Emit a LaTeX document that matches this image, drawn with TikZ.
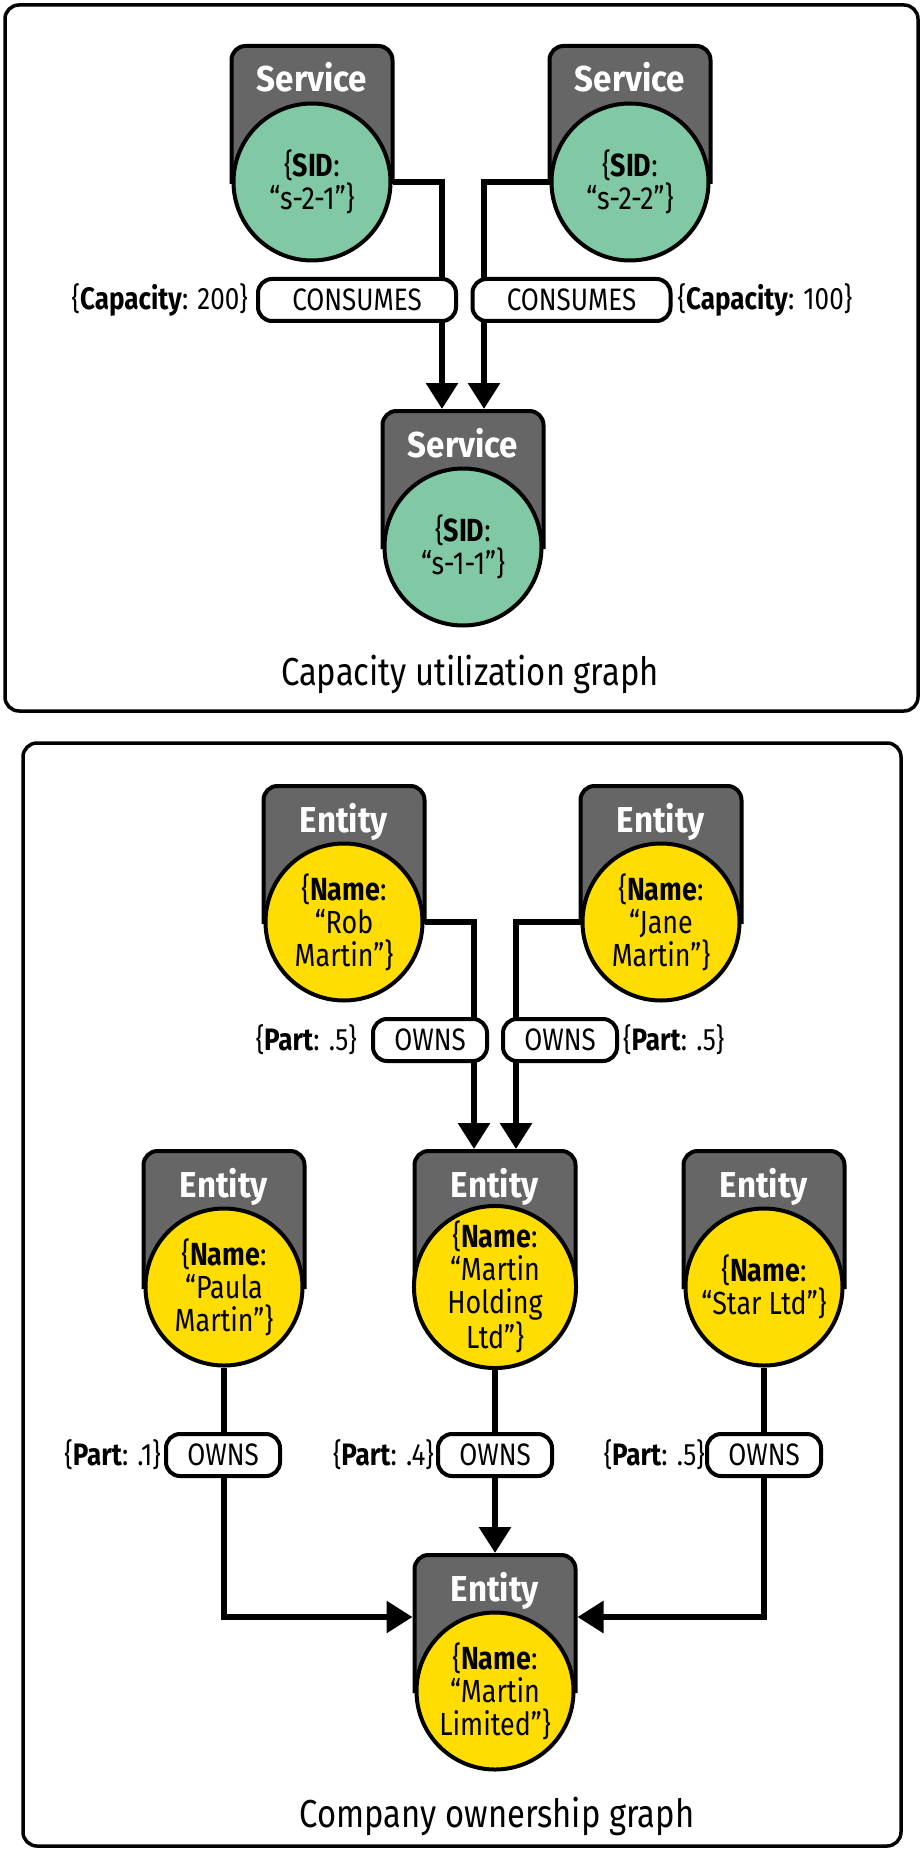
\documentclass[tikz,border=0pt]{standalone}
\usepackage{fontspec}
\setmainfont{Fira Sans}[FakeStretch=0.84]
\newfontfamily\headfont{Fira Sans}[FakeStretch=0.92]
\usetikzlibrary{positioning,arrows.meta}

\definecolor{headgrey}{RGB}{102,102,102}
\definecolor{sidgreen}{RGB}{128,201,164}
\definecolor{nameyellow}{RGB}{255,221,0}

% graph node: name, x, y of circle centre, header, fill, properties
\newcommand{\graphnode}[6]{%
  \draw[header] (#2-80.5,#3) [rounded corners=14pt] -- (#2-80.5,#3-136) -- (#2+80.5,#3-136) [sharp corners] -- (#2+80.5,#3) -- cycle;
  \node[headtext, anchor=base] (#1-head) at (#2,#3-90) {#4};
  \coordinate (#1-top) at (#2,#3-138);
  \node[prop, fill=#5] (#1) at (#2,#3) {#6};
}

\begin{document}
\begin{tikzpicture}[x=1pt, y=-1pt,
    panel/.style={draw, line width=3.5pt, rounded corners=14pt},
    header/.style={draw, line width=4pt, fill=headgrey},
    headtext/.style={text=white, inner sep=0, font=\headfont\fontsize{36}{36}\selectfont\bfseries},
    prop/.style={circle, draw, line width=4pt, minimum size=157pt, inner sep=0, align=center, font=\fontsize{32}{33}\selectfont},
    rel/.style={draw, line width=4pt, fill=white, rounded corners=14pt, minimum height=42pt, inner sep=0, font=\fontsize{31}{31}\selectfont},
    attr/.style={inner sep=0, font=\fontsize{31}{31}\selectfont},
    title/.style={inner sep=0, font=\fontsize{39}{39}\selectfont},
    conn/.style={line width=6pt, -{Triangle[length=26pt, width=31pt]}}]
        \useasboundingbox (0,0) rectangle (923,1851);

        % Panels
        \draw[panel] (5,5) rectangle (918,711);
        \draw[panel] (23,743) rectangle (901,1846);

        % Capacity utilization graph
        \graphnode{s21}{312}{182}{Service}{sidgreen}{\{\textbf{SID}:\\“s-2-1”\}}
        \graphnode{s22}{630}{182}{Service}{sidgreen}{\{\textbf{SID}:\\“s-2-2”\}}
        \graphnode{s11}{463}{547}{Service}{sidgreen}{\{\textbf{SID}:\\“s-1-1”\}}

        \coordinate (s11-in1) at (442,409);
        \coordinate (s11-in2) at (484,409);
        \draw[conn] (s21.east) -| (s11-in1);
        \draw[conn] (s22.west) -| (s11-in2);

        \node[rel, minimum width=198pt] (cons1) at (357,300) {CONSUMES};
        \node[rel, minimum width=198pt] (cons2) at (571.5,300) {CONSUMES};
        \node[attr, left=8pt of cons1] (cap1) {\{\textbf{Capacity}: 200\}};
        \node[attr, right=5pt of cons2] (cap2) {\{\textbf{Capacity}: 100\}};

        \node[title, anchor=base] (captitle) at (470,685) {Capacity utilization graph};

        % Company ownership graph
        \graphnode{rob}{344}{922}{Entity}{nameyellow}{\{\textbf{Name}:\\“Rob\\Martin”\}}
        \graphnode{jane}{661}{922}{Entity}{nameyellow}{\{\textbf{Name}:\\“Jane\\Martin”\}}
        \graphnode{paula}{224}{1287}{Entity}{nameyellow}{\{\textbf{Name}:\\“Paula\\Martin”\}}
        \graphnode{holding}{495}{1287}{Entity}{nameyellow}{\{\textbf{Name}:\\“Martin\\Holding\\Ltd”\}}
        \graphnode{star}{764}{1287}{Entity}{nameyellow}{\{\textbf{Name}:\\“Star Ltd”\}}
        \graphnode{limited}{495}{1691}{Entity}{nameyellow}{\{\textbf{Name}:\\“Martin\\Limited”\}}

        \coordinate (holding-in1) at (474,1149);
        \coordinate (holding-in2) at (516,1149);
        \coordinate (limited-w) at (412.5,1617);
        \coordinate (limited-e) at (577.5,1617);
        \draw[conn] (rob.east) -| (holding-in1);
        \draw[conn] (jane.west) -| (holding-in2);
        \draw[conn] (paula.south) |- (limited-w);
        \draw[conn] (star.south) |- (limited-e);
        \draw[conn] (holding.south) -- (limited-top);

        \node[rel, minimum width=114pt] (owns1) at (430,1040) {OWNS};
        \node[rel, minimum width=114pt] (owns2) at (560,1040) {OWNS};
        \node[rel, minimum width=114pt] (owns3) at (223,1455) {OWNS};
        \node[rel, minimum width=114pt] (owns4) at (495,1455) {OWNS};
        \node[rel, minimum width=114pt] (owns5) at (764,1455) {OWNS};
        \node[attr, left=14pt of owns1] (part1) {\{\textbf{Part}: .5\}};
        \node[attr, right=4pt of owns2] (part2) {\{\textbf{Part}: .5\}};
        \node[attr, left=3pt of owns3] (part3) {\{\textbf{Part}: .1\}};
        \node[attr, left=2pt of owns4] (part4) {\{\textbf{Part}: .4\}};
        \node[attr, left=0pt of owns5] (part5) {\{\textbf{Part}: .5\}};

        \node[title, anchor=base] (owntitle) at (497,1827) {Company ownership graph};
\end{tikzpicture}
\end{document}
